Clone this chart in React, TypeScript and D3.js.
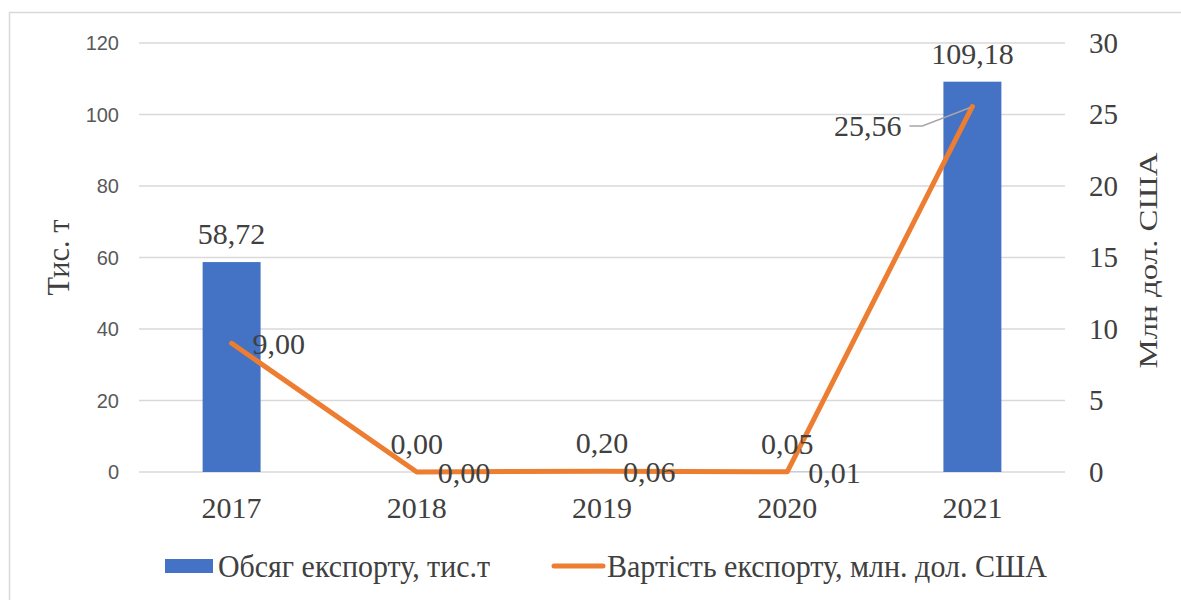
import React from "react";
import * as d3 from "d3";

const categories = ["2017", "2018", "2019", "2020", "2021"];
const volumeValues = [58.72, 0.0, 0.2, 0.05, 109.18];
const volumeLabels = ["58,72", "0,00", "0,20", "0,05", "109,18"];
const costValues = [9.0, 0.0, 0.06, 0.01, 25.56];
const costLabels = ["9,00", "0,00", "0,06", "0,01", "25,56"];
const leftTicks = [0, 20, 40, 60, 80, 100, 120];
const rightTicks = [0, 5, 10, 15, 20, 25, 30];
const legendBar = "Обсяг експорту, тис.т";
const legendLine = "Вартість експорту, млн. дол. США";
const leftTitle = "Тис. т";
const rightTitle = "Млн дол. США";

const W = 1181;
const H = 600;
const serif = "'Times New Roman', 'Liberation Serif', serif";
const sans = "'Liberation Sans', Arial, sans-serif";

export default function App() {
  const plotLeft = 139;
  const plotRight = 1065;
  const plotTop = 43;
  const plotBottom = 472;

  const x = d3.scaleBand<string>().domain(categories).range([plotLeft, plotRight]).paddingInner(0.687).paddingOuter(0.3435);
  const xc = (c: string) => (x(c) as number) + x.bandwidth() / 2;
  const yL = d3.scaleLinear().domain([0, 120]).range([plotBottom, plotTop]);
  const yR = d3.scaleLinear().domain([0, 30]).range([plotBottom, plotTop]);

  const line = d3
    .line<number>()
    .x((_, i) => xc(categories[i]))
    .y((d) => yR(d));

  const lastIdx = categories.length - 1;
  const px = xc(categories[lastIdx]);
  const py = yR(costValues[lastIdx]);
  const midY = (plotTop + plotBottom) / 2;

  return (
    <svg width={W} height={H} style={{ position: "absolute", left: 0, top: 0, background: "#fff" }}>
      <rect x={9.5} y={12.5} width={W + 20} height={H + 20} fill="#fff" stroke="#d9d9d9" strokeWidth={1.5} />
      {leftTicks.map((t) => (
        <line key={t} x1={plotLeft} x2={plotRight} y1={yL(t)} y2={yL(t)} stroke="#d9d9d9" strokeWidth={1.5} />
      ))}
      {leftTicks.map((t) => (
        <text key={t} x={119} y={yL(t)} dy="0.35em" textAnchor="end" fontFamily={sans} fontSize={20} fill="#595959">
          {t}
        </text>
      ))}
      {rightTicks.map((t) => (
        <text key={t} x={1089} y={yR(t)} dy="0.33em" textAnchor="start" fontFamily={serif} fontSize={29} fill="#404040">
          {t}
        </text>
      ))}
      {categories.map((c, i) => (
        <rect key={c} x={x(c)} y={yL(volumeValues[i])} width={x.bandwidth()} height={plotBottom - yL(volumeValues[i])} fill="#4472C4" />
      ))}
      <path d={line(costValues) || ""} fill="none" stroke="#ED7D31" strokeWidth={5} strokeLinejoin="round" strokeLinecap="round" />
      {categories.map((c) => (
        <text key={c} x={xc(c)} y={518} textAnchor="middle" fontFamily={serif} fontSize={30} fill="#404040">
          {c}
        </text>
      ))}
      {categories.map((c, i) => (
        <text key={c} x={xc(c)} y={yL(volumeValues[i]) - 18} textAnchor="middle" fontFamily={serif} fontSize={30} fill="#404040">
          {volumeLabels[i]}
        </text>
      ))}
      {categories.map((c, i) =>
        i === lastIdx ? null : (
          <text key={c} x={xc(c) + 21} y={yR(costValues[i]) + 11} textAnchor="start" fontFamily={serif} fontSize={30} fill="#404040">
            {costLabels[i]}
          </text>
        )
      )}
      <polyline points={`${px - 63},${py + 19.5} ${px - 50},${py + 19.5} ${px - 2},${py + 1}`} fill="none" stroke="#a6a6a6" strokeWidth={1.5} />
      <text x={px - 71} y={py + 30} textAnchor="end" fontFamily={serif} fontSize={30} fill="#404040">
        {costLabels[lastIdx]}
      </text>
      <text transform={`translate(69,${midY}) rotate(-90)`} textAnchor="middle" fontFamily={serif} fontSize={32} textLength={76} lengthAdjust="spacingAndGlyphs" fill="#404040">
        {leftTitle}
      </text>
      <text transform={`translate(1157,${midY + 3}) rotate(-90)`} textAnchor="middle" fontFamily={serif} fontSize={25} textLength={216} lengthAdjust="spacingAndGlyphs" fill="#404040">
        {rightTitle}
      </text>
      <rect x={165} y={559} width={48} height={14} fill="#4472C4" />
      <text x={218} y={577} fontFamily={serif} fontSize={32} textLength={272} lengthAdjust="spacingAndGlyphs" fill="#404040">
        {legendBar}
      </text>
      <line x1={554} x2={603} y1={566} y2={566} stroke="#ED7D31" strokeWidth={5} strokeLinecap="round" />
      <text x={607} y={577} fontFamily={serif} fontSize={32} textLength={440} lengthAdjust="spacingAndGlyphs" fill="#404040">
        {legendLine}
      </text>
    </svg>
  );
}
